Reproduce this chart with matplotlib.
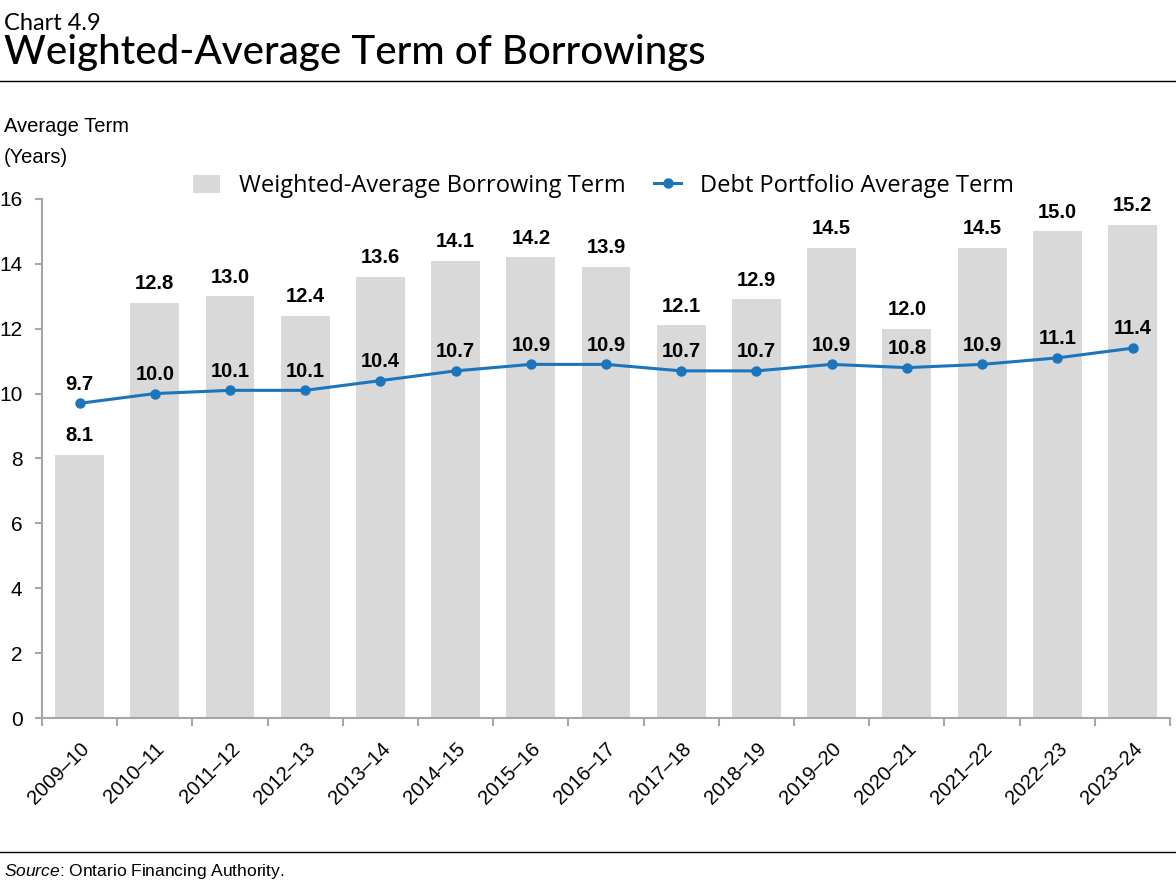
import matplotlib.pyplot as plt
import numpy as np

years = ['2009–10', '2010–11', '2011–12', '2012–13', '2013–14', '2014–15', '2015–16',
         '2016–17', '2017–18', '2018–19', '2019–20', '2020–21', '2021–22', '2022–23', '2023–24']
borrowing_term = [8.1, 12.8, 13.0, 12.4, 13.6, 14.1, 14.2, 13.9, 12.1, 12.9, 14.5, 12.0, 14.5, 15.0, 15.2]
portfolio_term = [9.7, 10.0, 10.1, 10.1, 10.4, 10.7, 10.9, 10.9, 10.7, 10.7, 10.9, 10.8, 10.9, 11.1, 11.4]

bar_color = '#D9D9D9'
line_color = '#1B75BC'
spine_color = '#A6A6A6'

plt.rcParams['font.family'] = ['Liberation Sans', 'DejaVu Sans']
plt.rcParams['mathtext.fontset'] = 'custom'
plt.rcParams['mathtext.it'] = 'Liberation Sans:italic'
plt.rcParams['mathtext.rm'] = 'Liberation Sans'

fig = plt.figure(figsize=(11.76, 8.88), dpi=100)
ax = fig.add_axes([0.0357, 0.1914, 0.9593, 0.5846])

x = np.arange(len(years))
bars = ax.bar(x, borrowing_term, width=0.65, color=bar_color,
              label='Weighted-Average Borrowing Term', zorder=1)
line, = ax.plot(x, portfolio_term, color=line_color, lw=2.2, marker='o', ms=6.5,
                label='Debt Portfolio Average Term', zorder=3)

for xi, v in zip(x, borrowing_term):
    ax.text(xi, v + 0.3, f'{v:.1f}', ha='center', va='bottom', fontsize=14.5, fontweight='bold')
for xi, v in zip(x, portfolio_term):
    ax.text(xi, v + 0.3, f'{v:.1f}', ha='center', va='bottom', fontsize=14.5, fontweight='bold')

ax.set_xlim(-0.5, len(years) - 0.5)
ax.set_ylim(0, 16)
ax.set_yticks(range(0, 17, 2))
ax.tick_params(axis='y', labelsize=15, length=5, width=1.5, color=spine_color, pad=9)
ax.set_xticks(x)
ax.set_xticklabels(years, rotation=45, ha='right', rotation_mode='anchor', fontsize=14.5)
ax.tick_params(axis='x', length=0, pad=15)
ax.set_xticks(np.arange(-0.5, len(years)), minor=True)
ax.tick_params(axis='x', which='minor', length=6, color=spine_color, width=1.5)

for s in ['top', 'right']:
    ax.spines[s].set_visible(False)
for s in ['left', 'bottom']:
    ax.spines[s].set_color(spine_color)
    ax.spines[s].set_linewidth(1.5)

ax.legend([bars, line], ['Weighted-Average Borrowing Term', 'Debt Portfolio Average Term'],
          loc='center', bbox_to_anchor=(0.498, 1.025), ncol=2, frameon=False,
          prop={'family': ['Open Sans', 'DejaVu Sans'], 'size': 17},
          handlelength=1.15, handleheight=0.8, columnspacing=1.2, handletextpad=0.8)

fig.text(0.003, 0.973, 'Chart 4.9', fontsize=17, family=['Lato', 'DejaVu Sans'], va='center')
fig.text(0.003, 0.941, 'Weighted-Average Term of Borrowings', fontsize=29,
         family=['Lato', 'DejaVu Sans'], fontweight='medium', va='center')
fig.add_artist(plt.Line2D([0, 1], [0.909, 0.909], color='black', lw=1))

fig.text(0.003, 0.857, 'Average Term', fontsize=14.5, va='center')
fig.text(0.003, 0.823, '(Years)', fontsize=14.5, va='center')

fig.add_artist(plt.Line2D([0, 1], [0.041, 0.041], color='black', lw=1))
fig.text(0.003, 0.019, r'$\it{Source}$: Ontario Financing Authority.', fontsize=12.5, va='center')

fig.savefig('out.png', dpi=100)
